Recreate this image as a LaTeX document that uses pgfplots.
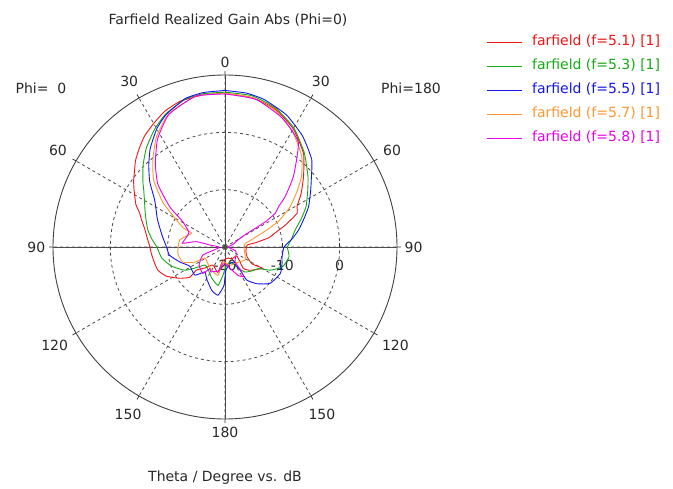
\documentclass[border=0pt]{standalone}
\usepackage{fontspec}
\setmainfont{DejaVu Sans}
\usepackage{pgfplots}
\pgfplotsset{compat=1.18}
\usepgfplotslibrary{polar}

\definecolor{cfa}{RGB}{240,20,20}
\definecolor{cfb}{RGB}{20,170,20}
\definecolor{cfc}{RGB}{20,20,240}
\definecolor{cfd}{RGB}{255,150,50}
\definecolor{cfe}{RGB}{235,0,235}
\definecolor{txt}{RGB}{40,40,40}
\newcommand{\fs}{\fontsize{14bp}{17bp}\selectfont}

\begin{document}
\begin{tikzpicture}
\path[use as bounding box] (0bp,0bp) rectangle (673bp,489bp);

\begin{polaraxis}[
    at={(225bp,242bp)}, anchor=center,
    scale only axis, width=344bp, height=344bp,
    xmin=0, xmax=360, ymin=0, ymax=30,
    % theta in degrees (negative = Phi=0 side), values in dB
    x filter/.expression={90-x},
    y filter/.expression={y+20},
    xtick={0,30,...,330},
    xticklabels={90,60,30,0,30,60,90,120,150,180,150,120},
    xticklabel style={inner sep=7.5bp},
    ytick={0,10,20},
    yticklabels={-20,-10,0},
    yticklabel style={anchor=north, yshift=-10bp},
    every tick label/.append style={font=\fs, text=txt},
    major tick length=4bp,
    tick style={black!80, line width=0.8bp},
    grid=major,
    major grid style={black!70, line width=0.8bp, dash pattern=on 3bp off 3bp},
    axis line style={black!75, line width=0.9bp},
    legend style={at={(1.25,1.127)}, anchor=north west, draw=none, fill=none,
        font=\fs, row sep=6bp,
        nodes={text height=10.5bp, text depth=3.5bp},
        /tikz/every odd column/.append style={column sep=8bp}},
    legend cell align=left,
    legend image code/.code={\draw[#1] (0bp,0bp) -- (35bp,0bp);},
    every axis plot/.append style={line width=0.9bp, smooth, tension=0.3},
]

% solid main cross
\addplot[forget plot, black!70, sharp plot] coordinates {(-90,10) (90,10)};
\addplot[forget plot, black!70, sharp plot] coordinates {(0,10) (180,10)};

% f = 5.1
\addplot[cfa] coordinates {
(0,6.8) (-8,6.8) (-17,6.6) (-24,5.9) (-30.5,4.8) (-36,3.9) (-41,2.8) (-46,1.7)
(-50,0.6) (-54,-0.3) (-58,-1.3) (-64.6,-2.8) (-68,-3.9) (-72,-4.7) (-77,-5.6)
(-83,-6.3) (-88.5,-6.8) (-95,-7.1) (-100,-7.3) (-109,-7.6) (-116.6,-8.6)
(-124.6,-10.4) (-130.6,-11.9) (-129,-13.6) (-136,-14.9) (-146,-16.2) (-164,-15.4)
(-169,-17.3) (-178,-17.8) (164.7,-18) (150,-17.6) (127,-17.4) (139.4,-15.1)
(132.6,-14) (119.6,-12.5) (122,-14.4) (113.8,-15.8) (100,-16.3) (85,-16.1)
(82,-14.6) (78,-12.2) (74,-10.8) (70,-8.8) (64.9,-6.1) (60.7,-5.6) (55,-3.8)
(48.1,-1.6) (40,1.3) (30,3.8) (20,5.6) (10,6.5) (0,6.8)
};
\addlegendentry{\textcolor{cfa}{farfield (f=5.1) [1]}}

% f = 5.3
\addplot[cfb] coordinates {
(0,7.0) (-8,7.0) (-15,6.7) (-24,5.4) (-31,3.9) (-38.5,2.05) (-45,0.2) (-51.5,-1.7)
(-55,-2.7) (-59.6,-3.7) (-65,-4.6) (-70,-5.3) (-77.5,-6.2) (-84,-7.2) (-90,-8.1)
(-99.9,-8.8) (-109.7,-10.1) (-120,-11.9) (-125,-13.6) (-132,-15.3) (-145,-15.0)
(-157,-14.1) (-169.6,-13.2) (-176,-15.1) (178,-16.5) (161.6,-17.2) (148,-15.7)
(141.3,-14.4) (130,-13.6) (122.3,-13.0) (117,-11.1) (109,-9.4) (98.7,-8.7)
(90,-9.1) (83,-8.3) (76.3,-7.4) (70,-5.9) (63.5,-4.2) (56,-2.6) (49.6,-1.0)
(40,1.5) (30,4.0) (20,5.8) (10,6.8) (0,7.0)
};
\addlegendentry{\textcolor{cfb}{farfield (f=5.3) [1]}}

% f = 5.5
\addplot[cfc] coordinates {
(0,7.3) (-8,7.2) (-15,6.8) (-23.9,5.3) (-30,3.8) (-37.1,1.6) (-43,-0.5) (-49,-2.6)
(-56.1,-5.2) (-62,-6.4) (-68,-7.3) (-79.2,-8.8) (-90,-9.8) (-98.3,-10.2)
(-108.4,-11.7) (-118.5,-13.0) (-133,-12.8) (-141,-14.4) (-150,-13.6) (-163,-12.1)
(-171.7,-11.5) (-178.5,-13.3) (177.5,-16) (155,-17.1) (146.9,-15.2) (146.7,-13.1)
(138.9,-11.5) (128.9,-9.9) (115.6,-9.3) (107,-9.6) (99.7,-9.9) (90,-9.7)
(83,-8.2) (76.9,-6.8) (70,-5.3) (64.2,-3.8) (57,-2.2) (52,-0.9) (44.7,1.5)
(35,3.6) (25,5.4) (15,6.6) (8,7.1) (0,7.3)
};
\addlegendentry{\textcolor{cfc}{farfield (f=5.5) [1]}}

% f = 5.7
\addplot[cfd] coordinates {
(0,6.8) (-11,6.8) (-23,5.2) (-32,2.6) (-40,-0.4) (-47,-3.0) (-54,-6.5)
(-57.5,-8.6) (-65.5,-12.0) (-67.6,-13.7) (-81.2,-12.0) (-97.7,-11.7)
(-109.8,-12.2) (-116.6,-14.1) (-118.8,-16.0) (-144.5,-15.5) (-166,-14.9)
(-172,-17.4) (164.5,-16.7) (139,-16.5) (123,-15.8) (115.5,-16.1) (90,-16.7)
(80,-16.4) (75,-15.3) (67.8,-12.1) (64,-9.5) (58.2,-6.6) (52,-4.0) (47.2,-1.8)
(40,0.8) (30,3.4) (20,5.4) (10,6.5) (0,6.8)
};
\addlegendentry{\textcolor{cfd}{farfield (f=5.7) [1]}}

% f = 5.8
\addplot[cfe] coordinates {
(0,6.7) (-11,6.8) (-23,5.1) (-32,2.2) (-40,-1.1) (-47,-4.0) (-54,-8.1)
(-59,-11.4) (-68,-13.2) (-79,-12.9) (-85,-12.6) (-79.4,-14.9) (-82.4,-17.3)
(-95,-19) (-110,-15.9) (-125,-14.5) (-140,-14) (-145,-15.4) (-150,-15)
(-160,-15.5) (-165,-15.5) (-172,-17) (178,-17) (165,-16) (155,-14.5)
(148,-13.9) (146,-14.9) (145.8,-16.9) (130,-17.5) (110,-18) (90,-19.5)
(74,-18.7) (59,-16.5) (58,-11.7) (56,-9.4) (53,-8.3) (50,-6.3) (44,-2.8)
(35,2.3) (24,4.6) (12,6.3) (0,6.7)
};
\addlegendentry{\textcolor{cfe}{farfield (f=5.8) [1]}}

\end{polaraxis}

\node[font=\fs, text=txt] at (228bp,469bp) {Farfield Realized Gain Abs (Phi=0)};
\node[font=\fs, text=txt] at (41bp,401bp) {Phi=\ \ 0};
\node[font=\fs, text=txt] at (411bp,401bp) {Phi=180};
\node[font=\fs, text=txt] at (225bp,11bp) {Theta / Degree vs. dB};
\end{tikzpicture}
\end{document}
